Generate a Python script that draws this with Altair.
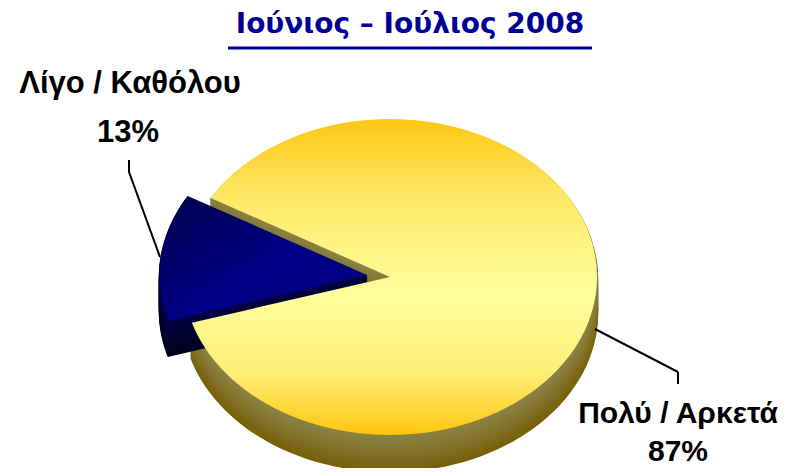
import altair as alt
import pandas as pd

# ---- data ----
categories = ["Λίγο / Καθόλου", "Πολύ / Αρκετά"]
values = [13, 87]
pct_labels = ["13%", "87%"]
title_text = ["Ιούνιος – Ιούλιος 2008"]

df = pd.DataFrame({"idx": list(range(len(categories))), "cat": categories, "value": values})
lab_df = pd.DataFrame({"idx": list(range(len(categories))), "cat": categories, "pct": pct_labels})
title_df = pd.DataFrame({"t": title_text})
one = pd.DataFrame({"a": [0]})

# ---- geometry / style parameters ----
W, H = 774, 460
N = 120          # arc resolution
L = 18           # number of depth layers
START = 150      # start angle (deg, CCW)
DEPTH = 36 / 158 # depth in y units
EXPLODE = 0.112  # explode distance of the small slice (radius units)
XDOM = [-382 / 207, 392 / 207]
YDOM = [-191 / 158, 269 / 158]

xs = alt.Scale(domain=XDOM, nice=False, zero=False)
ys = alt.Scale(domain=YDOM, nice=False, zero=False)

base = (
    alt.Chart(df)
    .transform_joinaggregate(total="sum(value)")
    .transform_window(cum="sum(value)", sort=[alt.SortField("idx")], frame=[None, 0])
    .transform_calculate(
        a0=f"({START} + (datum.cum - datum.value) / datum.total * 360) * PI / 180",
        a1=f"({START} + datum.cum / datum.total * 360) * PI / 180",
        ex=f"datum.value < 0.5 * datum.total ? {EXPLODE} : 0",
        seq=f"sequence(0, {N + 2})",
        k=f"sequence(0, {L + 1})",
    )
    .transform_flatten(["seq"])
    .transform_flatten(["k"])
    .transform_calculate(
        am="(datum.a0 + datum.a1) / 2",
        t=f"datum.a0 + (datum.a1 - datum.a0) * (datum.seq - 1) / {N}",
        off=f"{DEPTH} * ({L} - datum.k) / {L}",
        px="datum.ex * cos(datum.am) + (datum.seq == 0 ? 0 : cos(datum.t))",
        py="datum.ex * sin(datum.am) + (datum.seq == 0 ? 0 : sin(datum.t)) - datum.off",
    )
)

def poly_enc(ch):
    return ch.encode(
        x=alt.X("px:Q", scale=xs, axis=None),
        y=alt.Y("py:Q", scale=ys, axis=None),
        order=alt.Order("seq:Q"),
        detail="k:O",
    )

def side(i, c_top, c_bot):
    sc = alt.Scale(domain=[0, DEPTH], range=[c_top, c_bot])
    return poly_enc(
        base.transform_filter(f"datum.idx == {i} && datum.k < {L}")
        .mark_line(filled=True, strokeWidth=2.4, interpolate="linear")
    ).encode(
        fill=alt.Fill("off:Q", scale=sc, legend=None),
        stroke=alt.Stroke("off:Q", scale=sc, legend=None),
    )

def top(i, grad):
    return poly_enc(
        base.transform_filter(f"datum.idx == {i} && datum.k == {L}")
        .mark_line(filled=True, fill=grad, strokeWidth=0)
    )

yellow_grad = alt.Gradient(
    gradient="linear", x1=0, y1=0, x2=0, y2=1,
    stops=[
        alt.GradientStop(color="#FFC812", offset=0),
        alt.GradientStop(color="#FFE866", offset=0.25),
        alt.GradientStop(color="#FFFF9C", offset=0.55),
        alt.GradientStop(color="#FFEE78", offset=0.8),
        alt.GradientStop(color="#FFC60E", offset=1),
    ],
)
blue_grad = alt.Gradient(
    gradient="linear", x1=0, y1=0, x2=1, y2=1,
    stops=[
        alt.GradientStop(color="#00004A", offset=0),
        alt.GradientStop(color="#000088", offset=0.55),
        alt.GradientStop(color="#000078", offset=1),
    ],
)

yellow_side = side(1, "#8A8346", "#786006")
blue_side = side(0, "#000046", "#00001A")
yellow_top = top(1, yellow_grad)
blue_top = top(0, blue_grad)

FONT = "Liberation Sans"

def label(i, field, x, y, size=31, baseline="alphabetic"):
    return (
        alt.Chart(lab_df)
        .transform_filter(f"datum.idx == {i}")
        .mark_text(font=FONT, fontWeight="bold", fontSize=size, color="#000000",
                   align="center", baseline=baseline)
        .encode(text=f"{field}:N", x=alt.value(x), y=alt.value(y))
    )

labels = [
    label(0, "cat", 122, 85),
    label(0, "pct", 120, 134),
    label(1, "cat", 670, 415, 30),
    label(1, "pct", 670, 459, 30, "bottom"),
]

def seg(x1, y1, x2, y2, color="#000000", w=2):
    return alt.Chart(one).mark_rule(color=color, strokeWidth=w).encode(
        x=alt.value(x1), y=alt.value(y1), x2=alt.value(x2), y2=alt.value(y2)
    )

leaders = [
    seg(121, 152, 121, 164),
    seg(121, 164, 152, 249),
    seg(587, 321, 670, 364),
    seg(670, 364, 670, 376),
]

title = (
    alt.Chart(title_df)
    .mark_text(font="DejaVu Sans", fontWeight="bold", fontSize=28, color="#000099",
               align="center", baseline="alphabetic")
    .encode(text="t:N", x=alt.value(402), y=alt.value(25))
)
underline = seg(220, 40, 584, 40, color="#000099", w=3)

chart = (
    alt.layer(yellow_side, blue_side, yellow_top, blue_top, *leaders, *labels, title, underline)
    .resolve_scale(fill="independent", stroke="independent")
    .properties(width=W, height=H, padding=0, autosize=alt.AutoSizeParams(type="none"))
    .configure_view(stroke=None)
)

chart.save("out.html", embed_options={"renderer": "svg", "actions": False})
